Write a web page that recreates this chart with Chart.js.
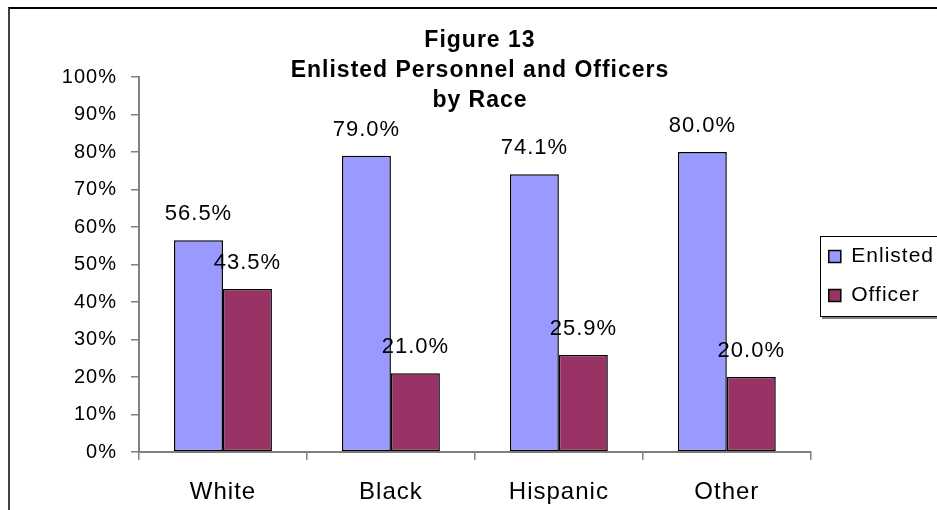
<!DOCTYPE html>
<html>
<head>
<meta charset="utf-8">
<script src="https://cdn.jsdelivr.net/npm/chart.js@4.4.1/dist/chart.umd.min.js"></script>
<style>
    body { margin: 0; background: #fff; overflow: hidden; }
    #frame { position: absolute; left: 8px; top: 7px; width: 1000px; height: 600px;
             border-left: 2px solid #404040; border-top: 2px solid #000; }
    #chart { position: absolute; left: 0; top: 0; }
</style>
</head>
<body>
<div id="frame"></div>
<canvas id="chart" width="960" height="510"></canvas>
<script>
const categories = ["White", "Black", "Hispanic", "Other"];
const enlisted = [56.5, 79.0, 74.1, 80.0];
const officer = [43.5, 21.0, 25.9, 20.0];
const seriesNames = ["Enlisted", "Officer"];
const titleLines = ["Figure 13", "Enlisted Personnel and Officers", "by Race"];
const yMin = 0, yMax = 100, yStep = 10;

const FONT = '"Liberation Sans", Arial, sans-serif';

// Excel-ish text is a bit wider than Arial, add a little tracking
const tracking = {
    id: "tracking",
    beforeLayout(chart) { chart.ctx.letterSpacing = "1px"; },
    beforeDraw(chart) { chart.ctx.letterSpacing = "1px"; }
};

const figureTitle = {
    id: "figureTitle",
    afterDraw(chart) {
        const ctx = chart.ctx;
        ctx.save();
        ctx.font = "bold 23px " + FONT;
        ctx.fillStyle = "#000";
        ctx.textAlign = "center";
        ctx.textBaseline = "alphabetic";
        titleLines.forEach((t, i) => ctx.fillText(t, 480, 47 + i * 30));
        ctx.restore();
    }
};

const valueLabels = {
    id: "valueLabels",
    afterDatasetsDraw(chart) {
        const ctx = chart.ctx;
        ctx.save();
        ctx.font = "22px " + FONT;
        ctx.fillStyle = "#000";
        ctx.textAlign = "center";
        ctx.textBaseline = "middle";
        chart.data.datasets.forEach((ds, i) => {
            chart.getDatasetMeta(i).data.forEach((bar, j) => {
                ctx.fillText(ds.data[j].toFixed(1) + "%", bar.x, bar.y - 26);
            });
        });
        ctx.restore();
    }
};

const legendFrame = {
    id: "legendFrame",
    afterDraw(chart) {
        const hb = chart.legend.legendHitBoxes;
        if (!hb || !hb.length) return;
        const first = hb[0], last = hb[hb.length - 1];
        const x0 = Math.round(first.left - 9), y0 = Math.round(first.top - 10);
        const y1 = Math.round(last.top + last.height + 10);
        const ctx = chart.ctx;
        ctx.save();
        ctx.fillStyle = "#808080";
        ctx.fillRect(x0 + 2, y1, chart.width, 3);
        ctx.strokeStyle = "#000";
        ctx.lineWidth = 1;
        ctx.strokeRect(x0 + 0.5, y0 + 0.5, chart.width, y1 - y0);
        ctx.restore();
    }
};

new Chart(document.getElementById("chart"), {
    type: "bar",
    data: {
        labels: categories,
        datasets: [
            { label: seriesNames[0], data: enlisted, backgroundColor: "#9999FF",
              borderColor: "#000", borderWidth: 1.5, borderSkipped: false },
            { label: seriesNames[1], data: officer, backgroundColor: "#993366",
              borderColor: "#000", borderWidth: 1.5, borderSkipped: false }
        ]
    },
    options: {
        responsive: false,
        animation: false,
        categoryPercentage: 0.583,
        barPercentage: 1,
        layout: { padding: { top: 77, bottom: 3, left: 0, right: 16 } },
        scales: {
            x: {
                grid: { offset: true, drawOnChartArea: false, drawTicks: true, tickLength: 8,
                        color: "#808080", lineWidth: 1.5 },
                border: { color: "#808080", width: 2 },
                ticks: { color: "#000", font: { family: FONT, size: 24 }, padding: 18 },
                afterFit(scale) { scale.height = 55; }
            },
            y: {
                min: yMin, max: yMax,
                grid: { drawOnChartArea: false, drawTicks: true, tickLength: 8,
                        color: "#808080", lineWidth: 1.5 },
                border: { color: "#808080", width: 2 },
                ticks: { stepSize: yStep, color: "#000", padding: 14,
                         font: { family: FONT, size: 20 }, callback: v => v + "%" },
                afterFit(scale) { scale.width = 139; }
            }
        },
        plugins: {
            title: { display: false },
            tooltip: { enabled: false },
            legend: {
                position: "right",
                fullSize: false,
                title: { display: true, text: "", padding: { top: 11, bottom: 11 }, font: { size: 1 } },
                labels: { color: "#000", font: { family: FONT, size: 21 },
                          boxWidth: 12, boxHeight: 12, padding: 18 }
            }
        }
    },
    plugins: [tracking, figureTitle, valueLabels, legendFrame]
});
</script>
</body>
</html>
